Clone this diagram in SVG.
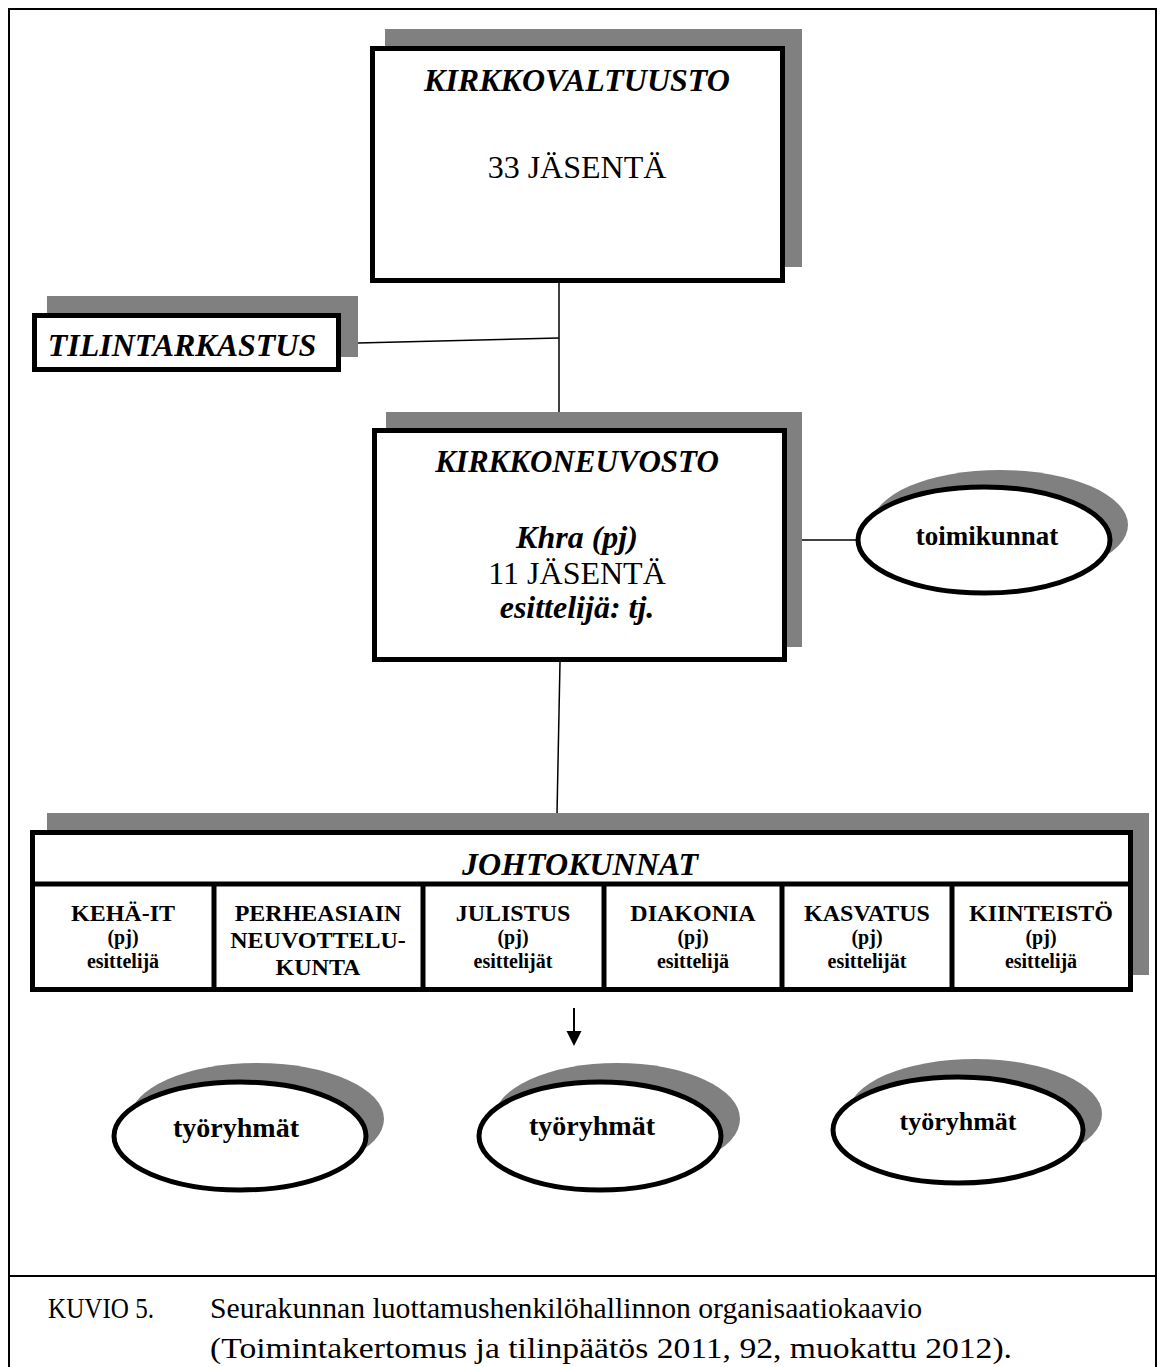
<svg xmlns="http://www.w3.org/2000/svg" width="1157" height="1367" viewBox="0 0 1157 1367">
<style>
.sh{fill:#808080}
.bx{fill:#fff;stroke:#000;stroke-width:5}
.dv{stroke:#000;stroke-width:5}
.t{font-family:"Liberation Serif","Times New Roman",serif;text-anchor:middle;fill:#000}
.bi{font-weight:bold;font-style:italic;font-size:32px}
.r{font-size:32px}
.c{font-weight:bold;font-size:24px}
.e{font-weight:bold;font-size:28px}
.ln{stroke:#000;stroke-width:1.5;fill:none}
.cap{font-family:"Liberation Serif","Times New Roman",serif;font-size:30px;fill:#000}
</style>
<rect width="1157" height="1367" fill="#fff"/>
<g id="frame">
<path d="M9,1367 V9 H1156 V1367" fill="none" stroke="#000" stroke-width="2"/>
<line x1="9" y1="1276" x2="1156" y2="1276" stroke="#000" stroke-width="2"/>
</g>
<g id="connectors">
<line class="ln" x1="559" y1="283" x2="559" y2="412"/>
<line class="ln" x1="358" y1="343" x2="559" y2="338"/>
<line class="ln" x1="560" y1="662" x2="557" y2="814"/>
<line class="ln" x1="788" y1="540" x2="857" y2="540"/>
<line x1="574" y1="1008" x2="574" y2="1032" stroke="#000" stroke-width="2"/>
<path d="M566.5,1031 L581.5,1031 L574,1046 Z" fill="#000"/>
</g>
<g id="kirkkovaltuusto">
<rect class="sh" x="385" y="29" width="417" height="238"/>
<rect class="bx" x="372.5" y="48.5" width="410" height="232"/>
<text class="t bi" x="577" y="91">KIRKKOVALTUUSTO</text>
<text class="t r" x="577" y="178">33 JÄSENTÄ</text>
</g>
<g id="tilintarkastus">
<rect class="sh" x="47" y="296" width="311" height="61"/>
<rect class="bx" x="34.5" y="315.5" width="304" height="54"/>
<text class="t bi" x="182" y="356">TILINTARKASTUS</text>
</g>
<g id="kirkkoneuvosto">
<rect class="sh" x="386" y="412" width="416" height="235"/>
<rect class="bx" x="374.5" y="430.5" width="410" height="229"/>
<text class="t bi" x="577" y="472" style="font-size:31px">KIRKKONEUVOSTO</text>
<text class="t bi" x="577" y="548">Khra (pj)</text>
<text class="t r" x="577" y="584">11 JÄSENTÄ</text>
<text class="t bi" x="577" y="618">esittelijä: tj.</text>
</g>
<g id="toimikunnat">
<ellipse class="sh" cx="1000" cy="525" rx="128" ry="55"/>
<ellipse class="bx" cx="984" cy="540" rx="126" ry="53"/>
<text class="t c" x="987" y="545" style="font-size:27px">toimikunnat</text>
</g>
<g id="johtokunnat">
<rect class="sh" x="47" y="813" width="1102" height="162"/>
<rect class="bx" x="32.5" y="832.5" width="1098" height="157"/>
<line class="dv" x1="32" y1="884" x2="1131" y2="884"/>
<line class="dv" x1="214" y1="884" x2="214" y2="990"/>
<line class="dv" x1="423" y1="884" x2="423" y2="990"/>
<line class="dv" x1="604" y1="884" x2="604" y2="990"/>
<line class="dv" x1="782" y1="884" x2="782" y2="990"/>
<line class="dv" x1="952" y1="884" x2="952" y2="990"/>
<text class="t bi" x="580" y="875">JOHTOKUNNAT</text>
</g>
<g id="keha-it">
<text class="t c" x="123" y="921">KEHÄ-IT</text>
<text class="t c" x="123" y="944" style="font-size:20px">(pj)</text>
<text class="t c" x="123" y="968" style="font-size:20px">esittelijä</text>
</g>
<g id="perheasiain">
<text class="t c" x="318" y="921">PERHEASIAIN</text>
<text class="t c" x="318" y="948">NEUVOTTELU-</text>
<text class="t c" x="318" y="975">KUNTA</text>
</g>
<g id="julistus">
<text class="t c" x="513" y="921">JULISTUS</text>
<text class="t c" x="513" y="944" style="font-size:20px">(pj)</text>
<text class="t c" x="513" y="968" style="font-size:20px">esittelijät</text>
</g>
<g id="diakonia">
<text class="t c" x="693" y="921">DIAKONIA</text>
<text class="t c" x="693" y="944" style="font-size:20px">(pj)</text>
<text class="t c" x="693" y="968" style="font-size:20px">esittelijä</text>
</g>
<g id="kasvatus">
<text class="t c" x="867" y="921">KASVATUS</text>
<text class="t c" x="867" y="944" style="font-size:20px">(pj)</text>
<text class="t c" x="867" y="968" style="font-size:20px">esittelijät</text>
</g>
<g id="kiinteisto">
<text class="t c" x="1041" y="921">KIINTEISTÖ</text>
<text class="t c" x="1041" y="944" style="font-size:20px">(pj)</text>
<text class="t c" x="1041" y="968" style="font-size:20px">esittelijä</text>
</g>
<g id="tyoryhmat-1">
<ellipse class="sh" cx="257" cy="1119" rx="127" ry="56"/>
<ellipse class="bx" cx="240" cy="1136" rx="126" ry="54"/>
<text class="t e" x="236" y="1137">työryhmät</text>
</g>
<g id="tyoryhmat-2">
<ellipse class="sh" cx="617" cy="1119" rx="123" ry="56"/>
<ellipse class="bx" cx="600" cy="1136" rx="121" ry="54"/>
<text class="t e" x="592" y="1135">työryhmät</text>
</g>
<g id="tyoryhmat-3">
<ellipse class="sh" cx="975" cy="1114" rx="127" ry="55"/>
<ellipse class="bx" cx="958" cy="1130" rx="125" ry="53"/>
<text class="t e" x="958" y="1130" style="font-size:26px">työryhmät</text>
</g>
<g id="caption">
<text class="cap" x="48" y="1318" textLength="106" lengthAdjust="spacingAndGlyphs">KUVIO 5.</text>
<text class="cap" x="210" y="1318" textLength="712" lengthAdjust="spacingAndGlyphs">Seurakunnan luottamushenkilöhallinnon organisaatiokaavio</text>
<text class="cap" x="210" y="1358" textLength="802" lengthAdjust="spacingAndGlyphs">(Toimintakertomus ja tilinpäätös 2011, 92, muokattu 2012).</text>
</g>
</svg>
